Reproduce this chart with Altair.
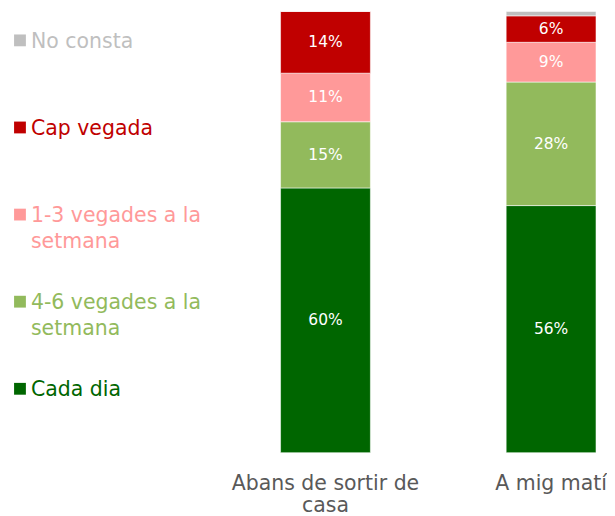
import altair as alt
import pandas as pd

categories = ["Abans de sortir de casa", "A mig matí"]
cat_labels = ["Abans de sortir de\ncasa", "A mig matí"]
series = ["Cada dia", "4-6 vegades a la setmana", "1-3 vegades a la setmana", "Cap vegada", "No consta"]
series_legend = ["Cada dia", "4-6 vegades a la\nsetmana", "1-3 vegades a la\nsetmana", "Cap vegada", "No consta"]
colors = ["#006600", "#92BA5C", "#FF9999", "#C00000", "#BFBFBF"]
values = {
    "Abans de sortir de casa": [60, 15, 11, 14, 0],
    "A mig matí": [56, 28, 9, 6, 1],
}

rows = []
for c, lab in zip(categories, cat_labels):
    for i, s in enumerate(series):
        rows.append({"cat": lab, "series": s, "order": i, "value": values[c][i],
                     "label": f"{values[c][i]}%"})
df = pd.DataFrame(rows)

color_scale = alt.Scale(domain=series, range=colors)

base = alt.Chart(df).transform_stack(
    stack="value", groupby=["cat"], as_=["y0", "y1"], sort=[alt.SortField("order")]
).transform_calculate(mid="(datum.y0 + datum.y1) / 2")

x_enc = alt.X("cat:N", sort=cat_labels, title=None,
              scale=alt.Scale(paddingInner=0.6018, paddingOuter=0.0443),
              axis=alt.Axis(labelExpr="split(datum.label, '\\n')", labelAngle=0,
                            labelFont="DejaVu Sans", labelFontSize=20.5, labelColor="#595959",
                            labelPadding=21, labelLineHeight=22, labelLimit=0, domain=False,
                            ticks=False, grid=False, labelBaseline="top"))

bars = base.mark_bar(stroke="white", strokeOpacity=0.55, strokeWidth=1).encode(
    x=x_enc,
    y=alt.Y("y0:Q", scale=alt.Scale(domain=[0, 100], nice=False), axis=None),
    y2="y1:Q",
    color=alt.Color("series:N", scale=color_scale, legend=None),
)

texts = base.transform_filter("datum.value >= 3").mark_text(
    color="white", font="DejaVu Sans", fontSize=15.5, baseline="middle"
).encode(
    x=alt.X("cat:N", sort=cat_labels),
    y=alt.Y("mid:Q"),
    text="label:N",
)

bar_panel = alt.layer(bars, texts).properties(width=336, height=442)

legend_order = list(reversed(series))
leg_df = pd.DataFrame({"series": series, "text": series_legend})

leg_base = alt.Chart(leg_df)
leg_y = alt.Y("series:N", sort=legend_order, axis=None,
              scale=alt.Scale(type="point", range=[29, 378], padding=0))
squares = leg_base.mark_square(size=140, opacity=1).encode(
    x=alt.value(12), y=leg_y,
    color=alt.Color("series:N", scale=color_scale, legend=None),
)
leg_text = leg_base.mark_text(
    align="left", baseline="alphabetic", dy=7.5, font="DejaVu Sans", fontSize=20.5,
    lineBreak="\n", lineHeight=26,
).encode(
    x=alt.value(23), y=leg_y, text="text:N",
    color=alt.Color("series:N", scale=color_scale, legend=None),
)
legend_panel = alt.layer(squares, leg_text).properties(width=250, height=442)

chart = alt.hconcat(legend_panel, bar_panel, spacing=13, bounds="flush").properties(
    padding={"left": 0, "top": 2, "right": 0, "bottom": 0}
).configure_view(stroke=None)

chart.save("out.html", embed_options={"renderer": "svg", "actions": False})
